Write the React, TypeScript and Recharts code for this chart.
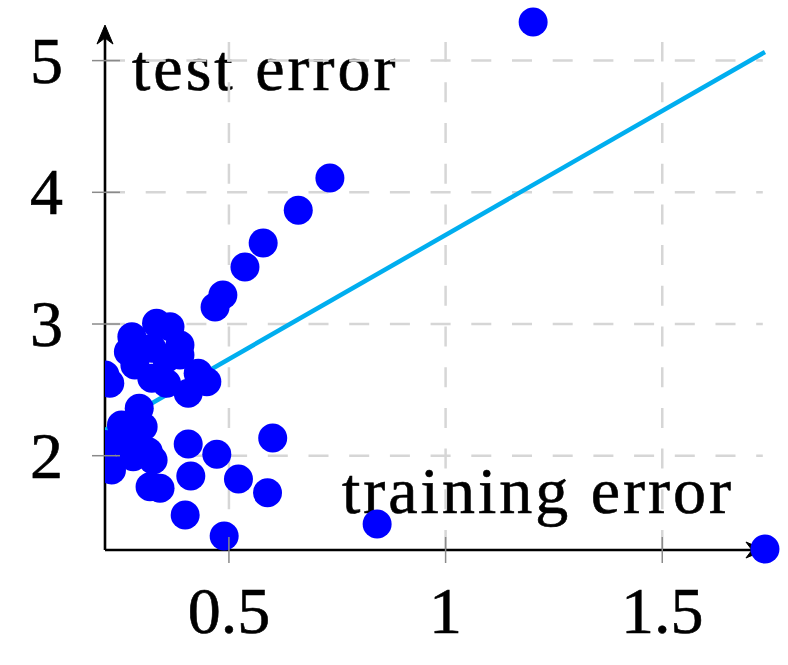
import React from "react";
import { ScatterChart, Scatter, XAxis, YAxis, ReferenceLine } from "recharts";

// training error (x) vs test error (y), one entry per run
const trainErr = [
  0.733, 0.66, 0.579, 0.537, 0.486, 0.468,
  1.202, 0.842, 1.737, 0.601,
  0.406, 0.472, 0.412, 0.522, 0.589, 0.399, 0.489,
  0.293, 0.252, 0.302, 0.214, 0.325, 0.314, 0.229, 0.279, 0.318, 0.341, 0.268,
  0.333, 0.364, 0.276, 0.387, 0.268, 0.322, 0.283, 0.387, 0.322, 0.356, 0.429,
  0.449, 0.406, 0.225, 0.214, 0.356,
];
const testErr = [
  4.108, 3.863, 3.615, 3.432, 3.22, 3.129,
  5.293, 1.481, 1.291, 2.135,
  2.089, 2.011, 1.846, 1.823, 1.719, 1.55, 1.39,
  2.36, 2.233, 2.22, 2.085, 1.967, 2.03, 1.891, 1.992, 1.765, 1.752, 2.056,
  3.005, 2.98, 2.904, 2.841, 2.79, 2.815, 2.689, 2.765, 2.588, 2.55, 2.626,
  2.562, 2.474, 2.55, 2.613, 2.74,
];

// least squares fit, drawn between the smallest and largest training error
const fitX = [0.214, 1.737];
const fitY = [2.195, 5.065];

const xTicks = [0.5, 1, 1.5];
const yTicks = [2, 3, 4, 5];

// axis extents
const X_MIN = 0.214;
const Y_MIN = 1.284;
const GRID_X_MAX = 1.732;
const GRID_Y_MAX = 5.141;
const ARROW_X_MAX = 1.737;
const ARROW_Y_MAX = 5.27;

const points = trainErr.map((x, i) => ({ x, y: testErr[i] }));
const fitLine = fitX.map((x, i) => ({ x, y: fitY[i] }));

const FONT = "'Liberation Serif', 'Times New Roman', serif";
const GRID = "#d6d6d6";
const TICK = "#8a8a8a";

function XTick(props: any) {
  const { x, y, payload } = props;
  return (
    <g>
      <line x1={x} x2={x} y1={y - 13} y2={y + 13} stroke={TICK} strokeWidth={1.5} />
      <text x={x} y={y + 83} textAnchor="middle" fontSize={66} fontFamily={FONT} fill="#000" stroke="#000" strokeWidth={0.6}>
        {String(payload.value)}
      </text>
    </g>
  );
}

function YTick(props: any) {
  const { x, y, payload } = props;
  return (
    <g>
      <line x1={x - 13} x2={x + 15} y1={y} y2={y} stroke={TICK} strokeWidth={1.5} />
      <text x={x - 42} y={y + 22} textAnchor="end" fontSize={66} fontFamily={FONT} fill="#000" stroke="#000" strokeWidth={0.6}>
        {String(payload.value)}
      </text>
    </g>
  );
}

function Arrow(props: any) {
  const { x1, y1, x2, y2 } = props;
  const len = Math.hypot(x2 - x1, y2 - y1) || 1;
  const ux = (x2 - x1) / len;
  const uy = (y2 - y1) / len;
  const px = -uy;
  const py = ux;
  const back = 19;
  const half = 8;
  const notch = 13;
  const head = `M${x2},${y2} L${x2 - ux * back + px * half},${y2 - uy * back + py * half} L${x2 - ux * notch},${y2 - uy * notch} L${x2 - ux * back - px * half},${y2 - uy * back - py * half} Z`;
  return (
    <g>
      <line x1={x1} y1={y1} x2={x2 - ux * 8} y2={y2 - uy * 8} stroke="#000" strokeWidth={2.6} />
      <path d={head} fill="#000" stroke="#000" strokeWidth={1} strokeLinejoin="round" />
    </g>
  );
}

const dot = (p: any) => <circle cx={p.cx} cy={p.cy} r={14.5} fill="#0000ff" />;

export default function App() {
  return (
    <div style={{ position: "absolute", left: 0, top: 0, width: 788, height: 665, background: "#fff" }}>
      <ScatterChart width={788} height={665} margin={{ top: 5.3, right: 4.4, bottom: 85, left: 45 }}>
        <XAxis
          type="number"
          dataKey="x"
          domain={[0.214, 1.78]}
          ticks={xTicks}
          height={30}
          axisLine={false}
          tickLine={false}
          tickSize={0}
          tickMargin={0}
          tick={<XTick />}
          allowDataOverflow
        />
        <YAxis
          type="number"
          dataKey="y"
          domain={[1.284, 5.42]}
          ticks={yTicks}
          width={60}
          axisLine={false}
          tickLine={false}
          tickSize={0}
          tickMargin={0}
          tick={<YTick />}
          allowDataOverflow={false}
        />
        {yTicks.map((t) => (
          <ReferenceLine
            key={"h" + t}
            segment={[{ x: X_MIN, y: t }, { x: GRID_X_MAX, y: t }]}
            stroke={GRID}
            strokeWidth={2.5}
            strokeDasharray="20 20.7"
            ifOverflow="visible"
          />
        ))}
        {xTicks.map((t) => (
          <ReferenceLine
            key={"v" + t}
            segment={[{ x: t, y: Y_MIN }, { x: t, y: GRID_Y_MAX }]}
            stroke={GRID}
            strokeWidth={2.5}
            strokeDasharray="20 20.7"
            ifOverflow="visible"
          />
        ))}
        <ReferenceLine
          segment={[{ x: X_MIN, y: Y_MIN }, { x: ARROW_X_MAX, y: Y_MIN }]}
          shape={<Arrow />}
          ifOverflow="visible"
        />
        <ReferenceLine
          segment={[{ x: X_MIN, y: Y_MIN }, { x: X_MIN, y: ARROW_Y_MAX }]}
          shape={<Arrow />}
          ifOverflow="visible"
        />
        <Scatter
          data={fitLine}
          line={{ stroke: "#00aeef", strokeWidth: 4.5 }}
          shape={() => <g />}
          legendType="none"
          isAnimationActive={false}
        />
        <Scatter data={points} shape={dot} isAnimationActive={false} />
        <text x={132} y={90} fontSize={66} fontFamily={FONT} letterSpacing={3} fill="#000" stroke="#000" strokeWidth={0.6}>
          test error
        </text>
        <text x={342} y={513} fontSize={66} fontFamily={FONT} letterSpacing={3} fill="#000" stroke="#000" strokeWidth={0.6}>
          training error
        </text>
      </ScatterChart>
    </div>
  );
}
